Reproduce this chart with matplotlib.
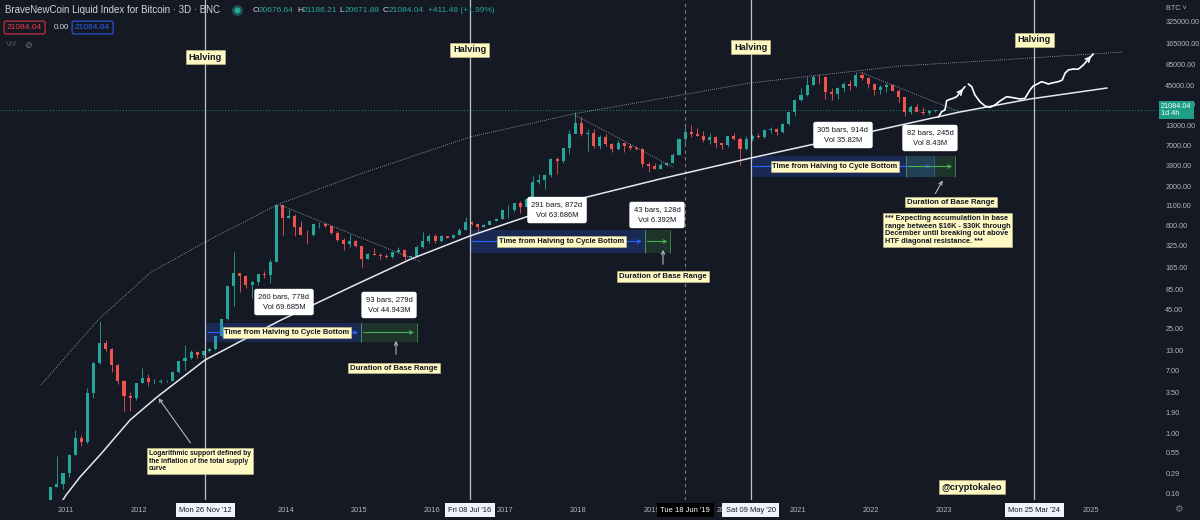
import numpy as np
import pandas as pd
import matplotlib
matplotlib.use("Agg")
import matplotlib.pyplot as plt
import matplotlib.transforms as mtransforms
from matplotlib.lines import Line2D
from matplotlib.ticker import FuncFormatter, NullLocator

plt.rcParams['font.family'] = ['Liberation Sans', 'DejaVu Sans']

# monthly OHLC of the BNC index, Aug 2010 .. Nov 2022
first_month = "2010-08"
first_open = 0.07
closes = [0.06, 0.062, 0.19, 0.21, 0.30,
          0.52, 0.86, 0.78, 3.5, 8.7, 16.1, 13.4, 8.2, 5.1, 3.2, 2.97, 4.7,
          5.5, 4.9, 4.9, 5.0, 5.1, 6.7, 9.3, 10.2, 12.4, 11.2, 12.6, 13.5,
          20.4, 33.4, 93, 139, 129, 97, 106, 135, 133, 198, 1130, 757,
          800, 570, 450, 445, 630, 640, 585, 480, 387, 338, 378, 320,
          217, 254, 244, 236, 230, 263, 284, 230, 236, 314, 377, 430,
          369, 437, 416, 448, 531, 673, 624, 575, 609, 700, 742, 964,
          970, 1190, 1080, 1350, 2300, 2480, 2880, 4700, 4340, 6470, 10200, 14150,
          10200, 10300, 6900, 9240, 7500, 6400, 7730, 7030, 6630, 6300, 4020, 3740,
          3460, 3850, 4100, 5320, 8570, 10800, 10100, 9600, 8300, 9200, 7550, 7200,
          9350, 8600, 6440, 8660, 9460, 9140, 11350, 11680, 10780, 13800, 19700, 29000,
          33100, 45200, 58800, 57700, 37300, 35000, 41500, 47100, 43800, 61300, 57000, 46300,
          38500, 43200, 45500, 37700, 31800, 19900, 23300, 20000, 19400, 20500, 21084]
highs = [0.07, 0.07, 0.19, 0.50, 0.30,
         0.53, 1.10, 0.95, 4.0, 9.0, 32, 17.5, 14.0, 8.5, 5.2, 3.6, 4.8,
         7.4, 6.3, 5.4, 5.3, 5.2, 6.8, 9.4, 15.4, 12.9, 12.6, 12.8, 13.7,
         20.4, 33.4, 95, 266, 140, 130, 110, 135, 148, 217, 1150, 1100,
         1000, 850, 700, 520, 630, 680, 650, 600, 510, 415, 460, 385,
         320, 260, 300, 260, 250, 265, 315, 285, 245, 330, 500, 465,
         460, 445, 440, 465, 550, 775, 700, 630, 630, 720, 755, 970,
         1150, 1200, 1300, 1350, 2760, 2980, 2950, 4750, 4980, 6470, 11500, 19700,
         17200, 11800, 11700, 9760, 9990, 7750, 8450, 7760, 7400, 7000, 6550, 4300,
         4100, 4200, 4120, 5600, 9000, 13800, 13200, 12300, 10900, 10500, 9500, 7750,
         9600, 10500, 9200, 9450, 10100, 10400, 11450, 12500, 12100, 14100, 19900, 29300,
         41900, 58300, 61700, 64800, 59500, 41300, 42300, 50500, 52900, 67000, 69000, 59000,
         48000, 45800, 48200, 47400, 39900, 31900, 24600, 25200, 22800, 21000, 21186]
lows = [0.05, 0.06, 0.06, 0.19, 0.18,
        0.26, 0.52, 0.67, 0.75, 3.0, 8.5, 12.8, 6.6, 4.6, 2.0, 2.0, 2.8,
        4.7, 4.3, 4.6, 4.7, 4.9, 5.2, 6.4, 7.1, 9.9, 10.2, 10.5, 12.3,
        13.2, 19.6, 33, 50, 79, 88, 65, 96, 119, 102, 200, 450,
        750, 430, 450, 340, 430, 560, 575, 460, 375, 280, 315, 310,
        170, 215, 240, 218, 225, 220, 255, 200, 225, 235, 300, 355,
        355, 365, 405, 415, 445, 530, 610, 480, 570, 605, 690, 740,
        760, 920, 890, 1060, 1340, 2150, 1840, 2680, 2980, 4130, 5500, 10700,
        9400, 6000, 6600, 6450, 7040, 5780, 6070, 5880, 6120, 6200, 3700, 3150,
        3400, 3390, 3780, 4070, 5300, 7450, 9100, 9400, 7800, 7300, 6500, 6430,
        6850, 8450, 3850, 6150, 8100, 8900, 8950, 10500, 9850, 10400, 13200, 17600,
        28100, 32300, 45000, 47000, 30000, 28800, 29300, 37300, 39600, 43300, 53300, 42000,
        33000, 34300, 37200, 37700, 26700, 17600, 18800, 19600, 18200, 18200, 20050]

price_ticks = [0.16, 0.29, 0.55, 1.0, 1.9, 3.5, 7, 13, 25, 45, 85, 165, 325, 600,
               1100, 2000, 3800, 7000, 13000, 25000, 45000, 85000, 165000, 325000]
year_ticks = list(range(2011, 2026))
hidden_years = [2013, 2024]   # covered by the date tags

last_price = 21084.04
ohlc_header = [("O", "20676.64"), ("H", "21186.21"), ("L", "20671.88"), ("C", "21084.04")]
change_text = "+411.48 (+1.99%)"

halving_dates = ["2012-11-26", "2016-07-08", "2020-05-09", "2024-03-25"]
halving_tags = ["Mon 26 Nov '12", "Fri 08 Jul '16", "Sat 09 May '20", "Mon 25 Mar '24"]
crosshair_date = "2019-06-18"
crosshair_tag = "Tue 18 Jun '19"

# halving -> cycle bottom, then base range
cycle_days = [778, 872, 914]
cycle_bars = [260, 291, 305]
cycle_vol = ["69.685M", "63.686M", "35.82M"]
base_start = [2015.03, 2018.906, 2022.475]
base_days = [279, 128, 245]
base_bars = [93, 43, 82]
base_vol = ["44.943M", "6.392M", "8.43M"]
range_low = [16.7, 259, 2686]
range_high = [30.0, 525, 5120]

# hand drawn lines (year, price)
support_years = [2010.891, 2011.0, 2011.191, 2011.464, 2011.874, 2012.243, 2012.899, 2013.91,
                 2014.975, 2015.713, 2016.519, 2017.325, 2018.063, 2019.115, 2020.358,
                 2021.847, 2023.213, 2024.169, 2025.221]
support_prices = [0.101, 0.150, 0.262, 0.515, 1.51, 3.07, 9.6, 31.9, 99.5, 215, 437, 808,
                  1406, 2523, 4819, 10080, 19860, 29600, 41520]
arc_years = [2010.658, 2011.437, 2012.148, 2012.899, 2013.91, 2014.975, 2016.519, 2017.926,
             2020.344, 2022.393, 2023.76, 2025.44]
arc_prices = [4.45, 32.9, 140, 363, 1170, 2853, 9194, 18670, 48460, 81830, 98400, 125900]
peak_lines = [((2013.923, 1133), (2015.85, 196)),
              ((2017.953, 18080), (2019.292, 3650)),
              ((2021.847, 67970), (2023.213, 19860))]
path1_years = [2022.917, 2022.963, 2023.008, 2023.031, 2023.077, 2023.122, 2023.168, 2023.213, 2023.281]
path1_prices = [16860, 20030, 21170, 28110, 29340, 30260, 31800, 35950, 43250]
path2_years = [2023.327, 2023.373, 2023.418, 2023.486, 2023.555, 2023.623, 2023.691, 2023.760,
               2023.851, 2023.941, 2024.033, 2024.101, 2024.169, 2024.214, 2024.261, 2024.329,
               2024.374, 2024.419, 2024.488, 2024.556, 2024.611, 2024.648, 2024.693, 2024.761,
               2024.830, 2024.898, 2024.966, 2025.034]
path2_prices = [47000, 43250, 33500, 27250, 23870, 22930, 24630, 27840, 31800, 30830, 29620,
                30260, 39070, 44190, 46570, 50430, 48910, 47000, 48910, 50430, 53150, 65330,
                72300, 74560, 74100, 84320, 100500, 118300]

BG = '#151924'
GREEN = '#26a69a'
RED = '#ef5350'
TXT = '#b2b5be'
YELLOW = '#fff9c4'
DARK = '#131722'


def dec_year(s):
    d = pd.Timestamp(s)
    return d.year + (d.dayofyear - 1) / (366 if d.is_leap_year else 365)


months = pd.period_range(first_month, periods=len(closes), freq='M')
t = np.array([p.year + (p.month - 0.5) / 12 for p in months])
c = np.array(closes)
o = np.array([first_open] + closes[:-1])
h = np.array(highs)
l = np.array(lows)
col = np.where(c >= o, GREEN, RED)

fig = plt.figure(figsize=(12, 5.2), dpi=100, facecolor=BG)
ax = fig.add_axes([0, 20 / 520, 1157 / 1200, 500 / 520])
ax.set_facecolor(BG)
ax.set_yscale('log')
ax.set_xlim(2010.098, 2025.905)
ax.set_ylim(0.129, 623700)
for s in ax.spines.values():
    s.set_visible(False)

ax.set_yticks(price_ticks)
ax.yaxis.set_major_formatter(FuncFormatter(lambda v, p: f"{v:.2f}"))
ax.yaxis.set_minor_locator(NullLocator())
ax.yaxis.tick_right()
ax.set_xticks(year_ticks)
ax.set_xticklabels(['' if y in hidden_years else str(y) for y in year_ticks])
ax.tick_params(axis='y', length=0, pad=6, labelsize=5.2, labelcolor=TXT)
ax.tick_params(axis='x', length=0, pad=5, labelsize=5.4, labelcolor=TXT)

# candles
ax.vlines(t, l, h, colors=col, lw=0.6, zorder=2)
ax.bar(t, np.abs(c - o), bottom=np.minimum(o, c), width=0.042, color=col, zorder=3)

# price line
ax.axhline(last_price, color=GREEN, lw=0.7, ls=(0, (1, 2)), alpha=0.8, zorder=1)

# halving and crosshair lines
hx = [dec_year(d) for d in halving_dates]
for x in hx:
    ax.axvline(x, color='#d1d4dc', lw=0.9, alpha=0.9, zorder=5)
cx = dec_year(crosshair_date)
ax.axvline(cx, color='#787b86', lw=0.8, ls=(0, (3, 3)), zorder=5)

ylab_tr = mtransforms.blended_transform_factory(ax.transData, ax.transAxes)
for x, yf in zip(hx, [0.886, 0.90, 0.906, 0.92]):
    ax.text(x, yf, "Halving", transform=ylab_tr, fontsize=6.6, fontweight='bold', color=DARK,
            ha='center', va='center', zorder=9,
            bbox=dict(boxstyle='square,pad=0.3', fc=YELLOW, ec='#c9c38f', lw=0.4))

# support curve, upper arc, peak diagonals
ax.plot(support_years, support_prices, color='#e6e8ee', lw=1.1, zorder=6)
ax.plot(arc_years, arc_prices, color='#d1d4dc', lw=0.6, ls=(0, (1, 1.5)), alpha=0.8, zorder=6)
for (x0, y0), (x1, y1) in peak_lines:
    ax.plot([x0, x1], [y0, y1], color='#d1d4dc', lw=0.6, ls=(0, (1, 1.5)), alpha=0.8, zorder=6)

# forecast path
ax.plot(path1_years, path1_prices, color='white', lw=1.2, zorder=7, solid_capstyle='round')
ax.plot(path2_years, path2_prices, color='white', lw=1.2, zorder=7, solid_capstyle='round')
for ys, ps in [(path1_years, path1_prices), (path2_years, path2_prices)]:
    ax.annotate('', xy=(ys[-1], ps[-1]), xytext=(ys[-2], ps[-2]),
                arrowprops=dict(arrowstyle='->', color='white', lw=1.2, mutation_scale=8), zorder=7)


def yellow_label(x, y, s, size=5.3, ha='center', va='center', **kw):
    ax.text(x, y, s, fontsize=size, fontweight='bold', color=DARK, ha=ha, va=va, zorder=9,
            bbox=dict(boxstyle='square,pad=0.25', fc=YELLOW, ec='#c9c38f', lw=0.4), **kw)


def info_box(x, y, s):
    ax.text(x, y, s, fontsize=5.5, color=DARK, ha='center', va='center', linespacing=1.8, zorder=9,
            bbox=dict(boxstyle='round,pad=0.55,rounding_size=0.3', fc='white', ec='none'))


cycle_label_x = [2014.019, 2017.77, 2021.505]
cycle_box_pos = [(2013.978, 57.2), (2017.708, 971), (2021.615, 9776)]
base_box_pos = [(2015.413, 52.2), (2019.074, 834), (2022.803, 8915)]
dur_label_pos = [(2015.481, 7.5), (2019.156, 127), (2023.09, 1242)]
dur_arrows = [((2015.508, 10.5), (2015.508, 18.9)),
              ((2019.156, 168), (2019.156, 311)),
              ((2022.858, 1496), (2022.995, 2601))]

for i in range(3):
    x0 = hx[i]
    x1 = x0 + cycle_days[i] / 365.25
    b0 = base_start[i]
    b1 = b0 + base_days[i] / 365.25
    lo, hi = range_low[i], range_high[i]
    mid = np.sqrt(lo * hi)
    ax.fill_between([x0, x1], [lo, lo], [hi, hi], color='#2962ff', alpha=0.22, lw=0, zorder=4)
    ax.vlines([x0, x1], lo, hi, color='#2962ff', lw=0.6, alpha=0.8, zorder=4)
    ax.annotate('', xy=(x1, mid), xytext=(x0, mid),
                arrowprops=dict(arrowstyle='->', color='#2962ff', lw=0.8, mutation_scale=6), zorder=5)
    ax.fill_between([b0, b1], [lo, lo], [hi, hi], color='#4caf50', alpha=0.18, lw=0, zorder=4)
    ax.vlines([b0, b1], lo, hi, color='#4caf50', lw=0.6, alpha=0.8, zorder=4)
    ax.annotate('', xy=(b1, mid), xytext=(b0, mid),
                arrowprops=dict(arrowstyle='->', color='#4caf50', lw=0.8, mutation_scale=6), zorder=5)
    yellow_label(cycle_label_x[i], mid, "Time from Halving to Cycle Bottom", size=5.4)
    info_box(*cycle_box_pos[i], f"{cycle_bars[i]} bars, {cycle_days[i]}d\nVol {cycle_vol[i]}")
    info_box(*base_box_pos[i], f"{base_bars[i]} bars, {base_days[i]}d\nVol {base_vol[i]}")
    yellow_label(*dur_label_pos[i], "Duration of Base Range", size=5.6)
    tail, tip = dur_arrows[i]
    ax.annotate('', xy=tip, xytext=tail,
                arrowprops=dict(arrowstyle='->', color='#b2b5be', lw=0.8, mutation_scale=6), zorder=8)

yellow_label(2022.189, 834, "*** Expecting accumulation in base\nrange between \\$16K - \\$30K through\n"
             "December until breaking out above\nHTF diagonal resistance. ***",
             size=5.3, ha='left', va='top', linespacing=1.12)
yellow_label(2012.134, 0.60, "Logarithmic support defined by\nthe inflation of the total supply\ncurve",
             size=4.9, ha='left', va='top', linespacing=1.12)
ax.annotate('', xy=(2012.243, 3.17), xytext=(2012.721, 0.70),
            arrowprops=dict(arrowstyle='->', color='#b2b5be', lw=0.8, mutation_scale=6), zorder=8)
yellow_label(2023.377, 0.192, "@cryptokaleo", size=6.6)


# header
def ftext(px, py, s, **kw):
    fig.text(px / 1200, 1 - py / 520, s, va='center', **kw)


ftext(5, 10, "BraveNewCoin Liquid Index for Bitcoin · 3D · BNC", fontsize=7.0, color='#d1d4dc')
fig.add_artist(Line2D([237 / 1200], [1 - 10 / 520], marker='o', ms=7, color=GREEN, alpha=0.3,
                      transform=fig.transFigure))
fig.add_artist(Line2D([237 / 1200], [1 - 10 / 520], marker='o', ms=3.5, color=GREEN,
                      transform=fig.transFigure))
for (k, v), px in zip(ohlc_header, [253, 297, 339, 383]):
    ftext(px, 10, k, fontsize=6.0, color='#d1d4dc')
    ftext(px + 6, 10, v, fontsize=6.0, color=GREEN)
ftext(428, 10, change_text, fontsize=6.0, color=GREEN)
ftext(7, 27.5, f"{last_price:.2f}", fontsize=6.0, color='#f23645',
      bbox=dict(boxstyle='round,pad=0.35,rounding_size=0.2', fc='none', ec='#f23645', lw=0.7))
ftext(54, 27.5, "0.00", fontsize=5.8, color='#d1d4dc')
ftext(75, 27.5, f"{last_price:.2f}", fontsize=6.0, color='#2962ff',
      bbox=dict(boxstyle='round,pad=0.35,rounding_size=0.2', fc='none', ec='#2962ff', lw=0.7))
ftext(6, 45, "Vol", fontsize=5.6, color='#50535e')
ftext(24, 45, "⊘", fontsize=6.5, color='#787b86')
ftext(1166, 8, "BTC ˅", fontsize=5.2, color=TXT)
ftext(1174, 509, "⚙", fontsize=7, color='#787b86')

# price tag on the axis
tag_tr = mtransforms.blended_transform_factory(fig.transFigure, ax.transData)
fig.text(1161 / 1200, last_price, f"{last_price:.2f}\n1d 4h", transform=tag_tr, fontsize=5.2,
         color='white', ha='left', va='center', linespacing=1.1,
         bbox=dict(boxstyle='square,pad=0.3', fc='#1f9e87', ec='none'))

# date tags under the vertical lines
date_tr = mtransforms.blended_transform_factory(ax.transData, fig.transFigure)
for x, s in zip(hx, halving_tags):
    fig.text(x, 10 / 520, s, transform=date_tr, fontsize=5.4, color=DARK, ha='center', va='center',
             bbox=dict(boxstyle='square,pad=0.45', fc='#f0f3fa', ec='none'))
fig.text(cx, 10 / 520, crosshair_tag, transform=date_tr, fontsize=5.4, color='white', ha='center',
         va='center', bbox=dict(boxstyle='square,pad=0.45', fc='black', ec='none'))

fig.savefig('out.png', dpi=100, facecolor=BG)
